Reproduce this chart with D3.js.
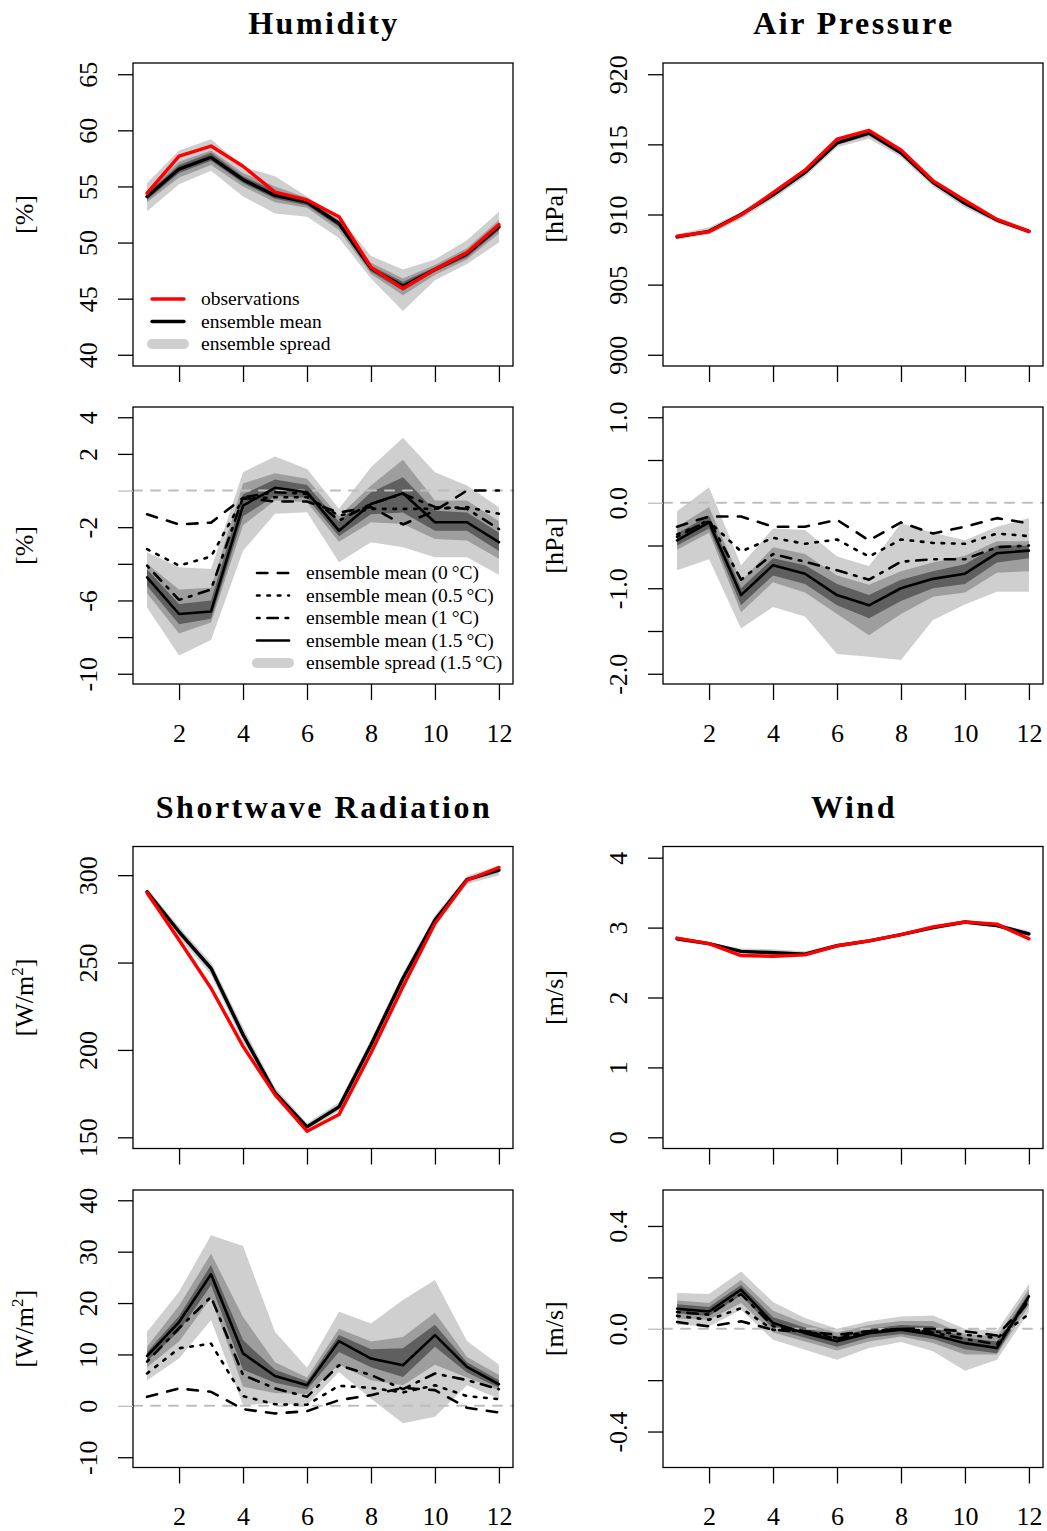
<!DOCTYPE html>
<html>
<head>
<meta charset="utf-8">
<script src="https://cdn.jsdelivr.net/npm/d3@7"></script>
<style>
  body { margin: 0; background: #fff; }
  svg { display: block; }
  text { font-family: "Liberation Serif", "Times New Roman", serif; fill: #000; }
</style>
</head>
<body>
<svg id="chart" width="1047" height="1531"></svg>
<script>
// ---- data -------------------------------------------------------------
const months = [1, 2, 3, 4, 5, 6, 7, 8, 9, 10, 11, 12];
const monthTicks = [2, 4, 6, 8, 10, 12];

// Humidity [%]
const humObs      = [54.4, 57.7, 58.6, 56.8, 54.5, 53.8, 52.3, 47.8, 45.9, 47.6, 49.1, 51.6];
const humMean     = [54.1, 56.55, 57.6, 55.6, 54.2, 53.6, 51.7, 47.7, 46.1, 47.6, 49.0, 51.4];
const humOuterHi  = [55.3, 58.2, 59.2, 56.75, 55.9, 54.1, 52.3, 48.8, 47.6, 48.5, 50.2, 52.75];
const humOuterLo  = [52.8, 55.2, 56.4, 54.1, 52.6, 52.3, 50.4, 46.8, 43.9, 46.65, 48.1, 50.0];
const humMidHi    = [54.6, 57.2, 58.2, 56.2, 55.0, 54.0, 52.0, 48.2, 46.8, 48.0, 49.5, 52.0];
const humMidLo    = [53.6, 55.8, 56.9, 55.0, 53.6, 53.1, 51.1, 47.2, 45.3, 47.1, 48.5, 50.8];
const humInnerHi  = [54.4, 56.9, 58.0, 55.9, 54.6, 53.8, 51.9, 47.9, 46.5, 47.8, 49.3, 51.7];
const humInnerLo  = [53.8, 56.2, 57.3, 55.3, 53.9, 53.3, 51.4, 47.4, 45.7, 47.4, 48.7, 51.1];

// Humidity change [%]
const humD0       = [-1.3, -1.85, -1.75, -0.4, -0.6, -0.6, -1.2, -0.9, -1.85, -1.1, 0.0, 0.0];
const humD05      = [-3.2, -4.1, -3.6, -0.45, -0.37, -0.37, -1.37, -1.0, -1.0, -1.0, -0.9, -1.27];
const humD1       = [-4.1, -5.97, -5.4, -0.37, -0.09, -0.18, -1.64, -0.73, -0.18, -0.9, -1.0, -2.1];
const humD15      = [-4.74, -6.74, -6.6, -0.82, 0.15, -0.09, -2.19, -0.73, -0.15, -1.73, -1.73, -2.82];
const humDOuterHi = [-3.37, -4.19, -4.28, 1.0, 1.86, 1.18, -1.0, 1.27, 2.88, 1.0, 0.27, -0.91];
const humDOuterLo = [-6.38, -9.0, -8.16, -3.28, -1.27, -1.18, -3.92, -2.82, -3.1, -3.64, -3.64, -4.59];
const humDMidHi   = [-4.0, -5.4, -5.3, 0.38, 0.95, 0.65, -1.4, 0.27, 1.68, -0.55, -0.55, -1.68];
const humDMidLo   = [-5.6, -7.8, -7.2, -1.9, -0.55, -0.64, -2.8, -1.73, -1.82, -2.64, -2.73, -3.73];
const humDInnerHi = [-4.3, -6.2, -6.0, -0.2, 0.6, 0.3, -1.7, -0.1, 0.73, -1.1, -1.2, -2.3];
const humDInnerLo = [-5.2, -7.3, -7.0, -1.4, -0.3, -0.4, -2.5, -1.3, -1.2, -2.2, -2.2, -3.3];

// Air pressure [hPa]
const presObs     = [908.46, 908.77, 909.96, 911.55, 913.16, 915.37, 916.0, 914.6, 912.4, 911.0, 909.65, 908.8];
const presMean    = [908.4, 908.8, 910.0, 911.4, 913.0, 915.1, 915.8, 914.4, 912.3, 910.8, 909.6, 908.8];
const presOuterHi = [908.6, 909.1, 910.2, 911.7, 913.3, 915.4, 916.1, 914.7, 912.6, 911.1, 909.8, 909.0];
const presOuterLo = [908.2, 908.6, 909.7, 911.1, 912.7, 914.8, 915.4, 914.1, 912.0, 910.5, 909.4, 908.6];
const presMidHi   = [908.5, 908.95, 910.1, 911.55, 913.15, 915.25, 915.95, 914.55, 912.45, 910.95, 909.7, 908.9];
const presMidLo   = [908.3, 908.7, 909.9, 911.25, 912.85, 914.95, 915.6, 914.25, 912.15, 910.65, 909.5, 908.7];

// Air pressure change [hPa]
const presD0       = [-0.28, -0.16, -0.16, -0.28, -0.28, -0.2, -0.44, -0.23, -0.36, -0.28, -0.18, -0.24];
const presD05      = [-0.37, -0.22, -0.57, -0.41, -0.48, -0.43, -0.63, -0.43, -0.47, -0.48, -0.36, -0.39];
const presD1       = [-0.40, -0.2, -0.9, -0.6, -0.69, -0.79, -0.9, -0.69, -0.66, -0.66, -0.52, -0.50];
const presD15      = [-0.44, -0.23, -1.08, -0.73, -0.83, -1.08, -1.2, -1.0, -0.89, -0.83, -0.59, -0.56];
const presDOuterHi = [-0.1, 0.18, -0.73, -0.3, -0.32, -0.63, -0.74, -0.24, -0.35, -0.44, -0.28, -0.18];
const presDOuterLo = [-0.79, -0.66, -1.47, -1.22, -1.33, -1.77, -1.8, -1.84, -1.37, -1.19, -1.04, -1.04];
const presDMidHi   = [-0.28, -0.05, -0.92, -0.52, -0.6, -0.85, -0.96, -0.8, -0.7, -0.62, -0.45, -0.45];
const presDMidLo   = [-0.55, -0.35, -1.28, -0.93, -1.05, -1.3, -1.55, -1.3, -1.1, -1.05, -0.82, -0.8];
const presDInnerHi = [-0.36, -0.15, -1.0, -0.65, -0.73, -0.95, -1.08, -0.9, -0.8, -0.72, -0.5, -0.5];
const presDInnerLo = [-0.5, -0.3, -1.2, -0.85, -0.95, -1.2, -1.35, -1.15, -1.0, -0.95, -0.7, -0.65];

// Shortwave radiation [W/m2]
const swObs     = [289.9, 262.9, 235.3, 202.0, 174.4, 153.5, 163.0, 198.2, 236.2, 272.4, 297.1, 304.4];
const swMean    = [290.5, 267.6, 246.7, 208.7, 175.4, 156.0, 167.4, 203.0, 241.0, 274.3, 297.5, 302.9];
const swOuterHi = [292.5, 270.5, 250.0, 213.0, 178.5, 158.0, 170.0, 206.0, 244.0, 277.0, 299.5, 305.5];
const swOuterLo = [287.5, 264.5, 243.0, 204.5, 172.5, 154.0, 165.0, 200.0, 238.0, 271.5, 295.0, 300.0];
const swMidHi   = [291.5, 269.0, 248.3, 210.8, 177.0, 157.0, 168.7, 204.5, 242.5, 275.7, 298.5, 304.2];
const swMidLo   = [289.0, 266.0, 245.0, 206.5, 174.0, 155.0, 166.0, 201.5, 239.5, 273.0, 296.3, 301.5];

// Shortwave radiation change [W/m2]
const swD0       = [1.75, 3.38, 2.73, -0.64, -1.49, -1.03, 1.1, 2.08, 3.5, 3.05, -0.38, -1.29];
const swD05      = [6.3, 11.2, 12.1, 1.9, 0.3, 0.2, 3.9, 3.5, 2.6, 4.0, 1.9, 1.3];
const swD1       = [8.6, 15.1, 21.2, 6.0, 3.4, 1.75, 7.9, 6.0, 3.25, 6.3, 5.0, 3.25];
const swD15      = [9.7, 16.3, 25.6, 10.2, 5.8, 4.0, 12.6, 9.2, 7.9, 13.75, 7.6, 4.2];
const swDOuterHi = [14.4, 22.2, 33.2, 31.1, 14.4, 7.4, 18.3, 16.0, 20.6, 24.5, 12.6, 8.0];
const swDOuterLo = [5.0, 9.2, 16.7, 0.1, 0.5, 0.1, 6.6, 1.4, -3.4, -2.1, 4.0, 1.4];
const swDMidHi   = [11.5, 19.5, 29.6, 17.3, 8.5, 5.5, 15.0, 12.5, 13.4, 18.1, 9.5, 6.0];
const swDMidLo   = [7.5, 12.5, 21.0, 3.7, 2.5, 2.3, 8.0, 5.0, 4.0, 8.0, 5.5, 3.0];
const swDInnerHi = [10.5, 17.5, 27.4, 12.8, 7.0, 4.8, 13.8, 11.0, 11.2, 15.8, 8.5, 5.0];
const swDInnerLo = [8.7, 14.5, 23.5, 7.0, 4.5, 3.2, 10.5, 7.5, 5.6, 11.5, 6.5, 3.5];

// Wind [m/s]
const windObs     = [2.85, 2.77, 2.60, 2.59, 2.61, 2.74, 2.81, 2.90, 3.01, 3.08, 3.05, 2.84];
const windMean    = [2.84, 2.77, 2.66, 2.64, 2.62, 2.74, 2.81, 2.90, 3.00, 3.08, 3.03, 2.91];
const windOuterHi = [2.87, 2.79, 2.70, 2.69, 2.66, 2.77, 2.83, 2.92, 3.03, 3.10, 3.06, 2.95];
const windOuterLo = [2.80, 2.74, 2.63, 2.61, 2.59, 2.71, 2.78, 2.88, 2.97, 3.05, 3.00, 2.86];
const windMidHi   = [2.86, 2.78, 2.68, 2.67, 2.64, 2.76, 2.82, 2.91, 3.02, 3.09, 3.05, 2.93];
const windMidLo   = [2.82, 2.75, 2.64, 2.62, 2.60, 2.72, 2.79, 2.89, 2.98, 3.06, 3.01, 2.88];

// Wind change [m/s]
const windD0       = [0.026, 0.009, 0.029, -0.004, -0.01, -0.023, -0.01, 0.0, -0.001, -0.01, -0.026, 0.106];
const windD05      = [0.05, 0.035, 0.08, -0.004, -0.01, -0.036, -0.01, 0.0, -0.01, -0.023, -0.036, 0.057];
const windD1       = [0.065, 0.055, 0.135, 0.01, -0.01, -0.04, -0.01, 0.0, -0.015, -0.04, -0.06, 0.11];
const windD15      = [0.078, 0.067, 0.152, 0.022, -0.017, -0.049, -0.017, -0.004, -0.023, -0.056, -0.075, 0.126];
const windDOuterHi = [0.139, 0.135, 0.223, 0.104, 0.042, 0.0, 0.029, 0.048, 0.052, 0.0, -0.008, 0.174];
const windDOuterLo = [0.016, 0.009, 0.074, -0.043, -0.082, -0.121, -0.075, -0.052, -0.088, -0.163, -0.121, 0.065];
const windDMidHi   = [0.11, 0.10, 0.19, 0.07, 0.02, -0.015, 0.015, 0.03, 0.03, -0.02, -0.03, 0.155];
const windDMidLo   = [0.04, 0.035, 0.1, -0.015, -0.05, -0.085, -0.05, -0.03, -0.055, -0.1, -0.1, 0.09];
const windDInnerHi = [0.095, 0.085, 0.17, 0.045, 0.005, -0.03, 0.0, 0.015, 0.01, -0.035, -0.05, 0.14];
const windDInnerLo = [0.06, 0.05, 0.13, 0.0, -0.035, -0.07, -0.035, -0.02, -0.04, -0.08, -0.095, 0.11];

// ---- styling ----------------------------------------------------------
const bandColors = ["#cfcfcf", "#9e9e9e", "#5f5f5f"];
const obsColor = "#ff0000";
const zeroColor = "#bebebe";
const diffLw = 2.6;
const dashStyles = {
  dashed:  `${4 * diffLw},${4 * diffLw}`,
  dotted:  `${1 * diffLw},${3 * diffLw}`,
  dotdash: `${1 * diffLw},${3 * diffLw},${4 * diffLw},${3 * diffLw}`,
  solid:   null
};
const axisFont = "26px";
const legendFont = "19.5px";

const cols = [{ x0: 133, x1: 513 }, { x0: 663, x1: 1043 }];
const rows = [
  { y0: 63, y1: 366, labelOffset: 58 },
  { y0: 407, y1: 684, labelOffset: 58 },
  { y0: 846.5, y1: 1148.5, labelOffset: 57 },
  { y0: 1190, y1: 1467.5, labelOffset: 57 }
];

const fmt0 = d => String(d);
const fmt1 = d => d.toFixed(1);

const panels = [
  { col: 0, row: 0, title: "Humidity", unit: ["[%]"], ylim: [40, 65],
    yTicks: [40, 45, 50, 55, 60, 65], yLabels: [40, 45, 50, 55, 60, 65], fmt: fmt0,
    bands: [[humOuterLo, humOuterHi], [humMidLo, humMidHi], [humInnerLo, humInnerHi]],
    mean: humMean, obs: humObs, legend: "abs" },
  { col: 0, row: 1, unit: ["[%]"], ylim: [-10, 4], showX: true,
    yTicks: [-10, -8, -6, -4, -2, 0, 2, 4], yLabels: [-10, -6, -2, 2, 4], fmt: fmt0,
    bands: [[humDOuterLo, humDOuterHi], [humDMidLo, humDMidHi], [humDInnerLo, humDInnerHi]],
    series: [humD0, humD05, humD1, humD15], legend: "diff" },
  { col: 1, row: 0, title: "Air Pressure", unit: ["[hPa]"], ylim: [900, 920],
    yTicks: [900, 905, 910, 915, 920], yLabels: [900, 905, 910, 915, 920], fmt: fmt0,
    bands: [[presOuterLo, presOuterHi], [presMidLo, presMidHi]],
    mean: presMean, obs: presObs },
  { col: 1, row: 1, unit: ["[hPa]"], ylim: [-2, 1], showX: true,
    yTicks: [-2, -1.5, -1, -0.5, 0, 0.5, 1], yLabels: [-2, -1, 0, 1], fmt: fmt1,
    bands: [[presDOuterLo, presDOuterHi], [presDMidLo, presDMidHi], [presDInnerLo, presDInnerHi]],
    series: [presD0, presD05, presD1, presD15] },
  { col: 0, row: 2, title: "Shortwave Radiation", unit: ["[W/m", "2", "]"], ylim: [150, 310],
    yTicks: [150, 200, 250, 300], yLabels: [150, 200, 250, 300], fmt: fmt0,
    bands: [[swOuterLo, swOuterHi], [swMidLo, swMidHi]],
    mean: swMean, obs: swObs },
  { col: 0, row: 3, unit: ["[W/m", "2", "]"], ylim: [-10, 40], showX: true,
    yTicks: [-10, 0, 10, 20, 30, 40], yLabels: [-10, 0, 10, 20, 30, 40], fmt: fmt0,
    bands: [[swDOuterLo, swDOuterHi], [swDMidLo, swDMidHi], [swDInnerLo, swDInnerHi]],
    series: [swD0, swD05, swD1, swD15] },
  { col: 1, row: 2, title: "Wind", unit: ["[m/s]"], ylim: [0, 4],
    yTicks: [0, 1, 2, 3, 4], yLabels: [0, 1, 2, 3, 4], fmt: fmt0,
    bands: [[windOuterLo, windOuterHi], [windMidLo, windMidHi]],
    mean: windMean, obs: windObs },
  { col: 1, row: 3, unit: ["[m/s]"], ylim: [-0.5, 0.5], showX: true,
    yTicks: [-0.4, -0.2, 0, 0.2, 0.4], yLabels: [-0.4, 0, 0.4], fmt: fmt1,
    bands: [[windDOuterLo, windDOuterHi], [windDMidLo, windDMidHi], [windDInnerLo, windDInnerHi]],
    series: [windD0, windD05, windD1, windD15] }
];

const seriesStyles = ["dashed", "dotted", "dotdash", "solid"];

// ---- drawing ----------------------------------------------------------
const svg = d3.select("#chart");

function padded([lo, hi]) {
  const e = (hi - lo) * 0.04;
  return [lo - e, hi + e];
}

panels.forEach(p => {
  const c = cols[p.col], r = rows[p.row];
  const x = d3.scaleLinear().domain(padded([1, 12])).range([c.x0, c.x1]);
  const y = d3.scaleLinear().domain(padded(p.ylim)).range([r.y1, r.y0]);
  const g = svg.append("g");

  // spread bands
  p.bands.forEach(([lo, hi], i) => {
    const area = d3.area()
      .x((d, j) => x(months[j]))
      .y0((d, j) => y(lo[j]))
      .y1((d, j) => y(hi[j]));
    g.append("path").datum(months).attr("d", area).attr("fill", bandColors[i]);
  });

  const line = vals => d3.line().x((d, j) => x(months[j])).y((d, j) => y(vals[j]))(months);

  if (p.series) {
    // reference line at zero
    g.append("line")
      .attr("x1", c.x0).attr("x2", c.x1)
      .attr("y1", y(0)).attr("y2", y(0))
      .attr("stroke", zeroColor).attr("stroke-width", 2)
      .attr("stroke-dasharray", "9,9").attr("stroke-linecap", "round");
    p.series.forEach((vals, i) => {
      g.append("path").attr("d", line(vals))
        .attr("fill", "none").attr("stroke", "#000").attr("stroke-width", diffLw)
        .attr("stroke-linejoin", "round").attr("stroke-linecap", "round")
        .attr("stroke-dasharray", dashStyles[seriesStyles[i]]);
    });
  } else {
    g.append("path").attr("d", line(p.mean))
      .attr("fill", "none").attr("stroke", "#000").attr("stroke-width", 3.4)
      .attr("stroke-linejoin", "round").attr("stroke-linecap", "round");
    g.append("path").attr("d", line(p.obs))
      .attr("fill", "none").attr("stroke", obsColor).attr("stroke-width", 3.4)
      .attr("stroke-linejoin", "round").attr("stroke-linecap", "round");
  }

  // frame
  g.append("rect")
    .attr("x", c.x0).attr("y", r.y0)
    .attr("width", c.x1 - c.x0).attr("height", r.y1 - r.y0)
    .attr("fill", "none").attr("stroke", "#000").attr("stroke-width", 1.3);

  // x axis
  const gx = g.append("g").attr("transform", `translate(0,${r.y1})`)
    .call(d3.axisBottom(x).tickValues(monthTicks).tickSize(16)
      .tickFormat(d => p.showX ? String(d) : ""));
  gx.select(".domain").remove();
  gx.selectAll(".tick line").attr("stroke", "#000").attr("stroke-width", 1.3);
  gx.selectAll("text").attr("y", r.labelOffset).attr("dy", null)
    .style("font-size", axisFont).attr("fill", "#000");

  // y axis (labels parallel to the axis)
  const gy = g.append("g").attr("transform", `translate(${c.x0},0)`)
    .call(d3.axisLeft(y).tickValues(p.yTicks).tickSize(15)
      .tickFormat(d => p.yLabels.includes(d) ? p.fmt(d) : ""));
  gy.select(".domain").remove();
  gy.selectAll(".tick line").attr("stroke", d => (p.series && d === 0) ? zeroColor : "#000")
    .attr("stroke-width", 1.3);
  gy.selectAll("text")
    .attr("transform", "rotate(-90)")
    .attr("x", 0).attr("y", -36).attr("dy", null)
    .attr("text-anchor", "middle")
    .style("font-size", axisFont).attr("fill", "#000");

  // y axis title
  const yt = g.append("text")
    .attr("transform", `translate(${c.x0 - 100},${(r.y0 + r.y1) / 2}) rotate(-90)`)
    .attr("text-anchor", "middle").style("font-size", axisFont);
  yt.append("tspan").text(p.unit[0]);
  if (p.unit.length > 1) {
    yt.append("tspan").text(p.unit[1]).attr("dy", -10).style("font-size", "17px");
    yt.append("tspan").text(p.unit[2]).attr("dy", 10);
  }

  // panel title
  if (p.title) {
    g.append("text")
      .attr("x", (c.x0 + c.x1) / 2 + 1).attr("y", r.y0 - 29)
      .attr("text-anchor", "middle")
      .style("font-size", "32px").style("font-weight", "bold").style("letter-spacing", "2.5px")
      .text(p.title);
  }

  // legends
  if (p.legend === "abs") {
    const items = [
      { label: "observations", stroke: obsColor, w: 3.4 },
      { label: "ensemble mean", stroke: "#000", w: 3.4 },
      { label: "ensemble spread", stroke: bandColors[0], w: 10 }
    ];
    const lg = g.append("g");
    items.forEach((it, i) => {
      const yy = 299 + i * 22.5;
      lg.append("line").attr("x1", 152).attr("x2", 184).attr("y1", yy).attr("y2", yy)
        .attr("stroke", it.stroke).attr("stroke-width", it.w).attr("stroke-linecap", "round");
      lg.append("text").attr("x", 201).attr("y", yy + 6).style("font-size", legendFont).text(it.label);
    });
  }
  if (p.legend === "diff") {
    const items = [
      { label: "ensemble mean (0\u2009°C)", style: "dashed" },
      { label: "ensemble mean (0.5\u2009°C)", style: "dotted" },
      { label: "ensemble mean (1\u2009°C)", style: "dotdash" },
      { label: "ensemble mean (1.5\u2009°C)", style: "solid" },
      { label: "ensemble spread (1.5\u2009°C)", style: "band" }
    ];
    const lg = g.append("g");
    items.forEach((it, i) => {
      const yy = 573 + i * 22.5;
      const ln = lg.append("line").attr("x1", 257).attr("x2", 289).attr("y1", yy).attr("y2", yy)
        .attr("stroke-linecap", "round");
      if (it.style === "band") {
        ln.attr("stroke", bandColors[0]).attr("stroke-width", 10);
      } else {
        ln.attr("stroke", "#000").attr("stroke-width", diffLw)
          .attr("stroke-dasharray", dashStyles[it.style]);
      }
      lg.append("text").attr("x", 306).attr("y", yy + 6).style("font-size", legendFont).text(it.label);
    });
  }
});
</script>
</body>
</html>
